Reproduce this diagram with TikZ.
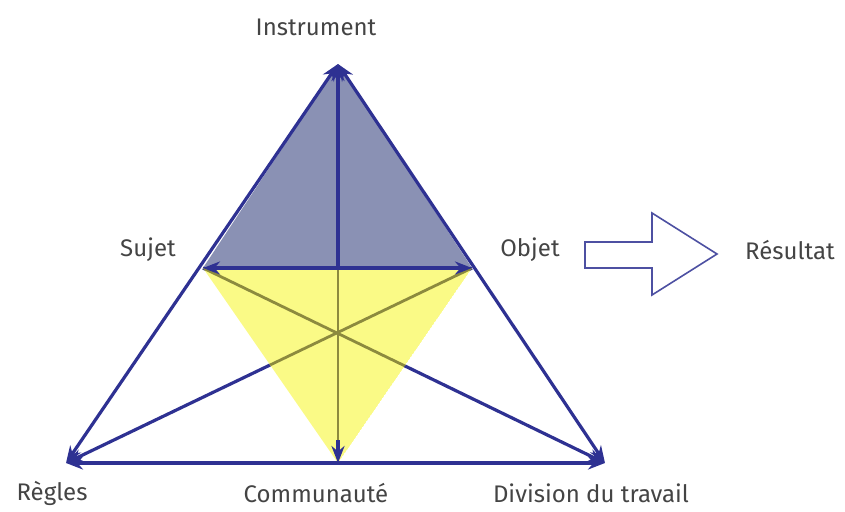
\documentclass[tikz,border=0pt]{standalone}
\usepackage{fontspec}
\setmainfont{Fira Sans}
\usetikzlibrary{arrows.meta}
\definecolor{trait}{HTML}{2E3192}
\definecolor{bleugris}{HTML}{8A91B4}
\definecolor{jaune}{HTML}{FAFA86}
\definecolor{kaki}{HTML}{8C8A3E}
\definecolor{texte}{HTML}{444444}
\tikzset{
    >={Stealth[length=17pt,width=13pt]},
    lien/.style={draw=trait, line width=3.2pt},
    lieninterne/.style={draw=kaki, line width=2.8pt},
    etiquette/.style={text=texte, font=\fontsize{24}{28}\selectfont},
}
\begin{document}
\begin{tikzpicture}[x=1pt, y=-1pt]
    \useasboundingbox (0,0) rectangle (845,511);
    % sommets
    \coordinate (I) at (338,64);
    \coordinate (S) at (203,268);
    \coordinate (O) at (472,268);
    \coordinate (R) at (66,463);
    \coordinate (C) at (338,463);
    \coordinate (D) at (605,463);
    \coordinate (M) at (338,268);
    \coordinate (Cb) at (338,440);
    \fill[bleugris] (I) -- (S) -- (O) -- cycle;
    \draw[lien, <->] (C) -- (I);
    \draw[lien, ->] (S) -- (D);
    \draw[lien, ->] (O) -- (R);
    \begin{scope}
        \clip (S) -- (O) -- (C) -- cycle;
        \fill[jaune] (S) -- (O) -- (C) -- cycle;
        \draw[lieninterne] (S) -- (D);
        \draw[lieninterne] (O) -- (R);
        \draw[lieninterne] (M) -- (Cb);
    \end{scope}
    \draw[lien, ->] (Cb) -- (C);
    \draw[lien, <->] (I) -- (R);
    \draw[lien, <->] (I) -- (D);
    \draw[lien, <->] (R) -- (D);
    \draw[lien, <->] (S) -- (O);
    % grande fleche
    \draw[draw=trait!85, line width=1.6pt, fill=white]
        (585,242) -- (652,242) -- (652,213) -- (717,254) -- (652,295) -- (652,268) -- (585,268) -- cycle;
    \node[etiquette] (instrument) at (316,27) {Instrument};
    \node[etiquette] (sujet) at (148,250) {Sujet};
    \node[etiquette] (objet) at (530,250) {Objet};
    \node[etiquette] (resultat) at (790,250) {Résultat};
    \node[etiquette] (regles) at (52,493) {Règles};
    \node[etiquette] (communaute) at (316,493) {Communauté};
    \node[etiquette] (division) at (591,493) {Division du travail};
\end{tikzpicture}
\end{document}
